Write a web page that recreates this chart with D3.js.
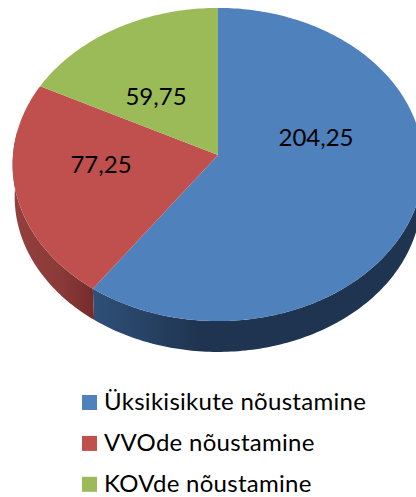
<!DOCTYPE html>
<html>
<head>
<meta charset="utf-8">
<script src="https://cdn.jsdelivr.net/npm/d3@7"></script>
<style>
  html, body { margin: 0; background: #fff; overflow: hidden; }
  text { font-family: Lato, "Noto Sans", sans-serif; fill: #000; }
</style>
</head>
<body>
<div class="chart"></div>
<script>
const categories = ["Üksikisikute nõustamine", "VVOde nõustamine", "KOVde nõustamine"];
const values = [204.25, 77.25, 59.75];
const valueLabels = ["204,25", "77,25", "59,75"];
const colors = ["#4f81bd", "#c0504d", "#9bbb59"];

const width = 416, height = 497;
const center = {x: 218, y: 155};
const radiusX = 205, radiusY = 156;
const tilt = 0.0607;       // perspective, the near edge of the disk looks bigger
const depth = 32.5, baseScale = 0.99;

const svg = d3.select(".chart").append("svg")
    .attr("width", width)
    .attr("height", height)
    .style("display", "block");

const xScale = d3.scaleLinear().domain([-1, 1]).range([center.x - radiusX, center.x + radiusX]);
const yScale = d3.scaleLinear().domain([-1, 1]).range([center.y - radiusY, center.y + radiusY]);

// angle is clockwise from 12 o'clock, same as d3.pie
function project(angle, r, scale, shift) {
    const u = r * Math.sin(angle), v = -r * Math.cos(angle);
    const w = 1 - tilt * v;
    return [xScale(scale * u / w), yScale(scale * v / w) + shift];
}

function rim(a0, a1, scale, shift) {
    const n = Math.max(2, Math.ceil(Math.abs(a1 - a0) * 60));
    return d3.range(n + 1).map(i => project(a0 + (a1 - a0) * i / n, 1, scale, shift));
}

const line = d3.line();
const slices = d3.pie().sort(null).value(d => d)(values);

const defs = svg.append("defs");
function sideGradient(id, x1, x2, stops) {
    const g = defs.append("linearGradient").attr("id", id)
        .attr("gradientUnits", "userSpaceOnUse")
        .attr("x1", x1).attr("x2", x2).attr("y1", 0).attr("y2", 0);
    stops.forEach(s => g.append("stop").attr("offset", s[0]).attr("stop-color", s[1]));
}
sideGradient("sideBlue", 93, 200, [[0, "#2f5078"], [1, "#1f3450"]]);
sideGradient("sideRed", 14, 93, [[0, "#93403d"], [0.6, "#8a3a38"], [1, "#752c2b"]]);

// side wall first, the top faces go over it
const sides = [
    {a0: Math.PI / 2, a1: slices[0].endAngle, fill: "url(#sideBlue)"},
    {a0: slices[0].endAngle, a1: Math.PI * 1.55, fill: "url(#sideRed)"}
];
svg.selectAll(".side")
    .data(sides)
    .join("path")
    .attr("class", "side")
    .attr("fill", d => d.fill)
    .attr("d", d => line(rim(d.a0, d.a1, 1, 0).concat(rim(d.a1, d.a0, baseScale, depth))) + "Z");

svg.selectAll(".slice")
    .data(slices)
    .join("path")
    .attr("class", "slice")
    .attr("fill", (d, i) => colors[i])
    .attr("d", d => line([project(0, 0, 1, 0)].concat(rim(d.startAngle, d.endAngle, 1, 0))) + "Z");

const labelPos = [[316, 146], [101, 173], [156, 105]];
svg.selectAll(".value")
    .data(valueLabels)
    .join("text")
    .attr("class", "value")
    .attr("x", (d, i) => labelPos[i][0])
    .attr("y", (d, i) => labelPos[i][1])
    .attr("text-anchor", "middle")
    .style("font-size", "24px")
    .text(d => d);

const legendY = d3.scalePoint().domain(categories).range([410, 491.8]);
const legend = svg.selectAll(".legend")
    .data(categories)
    .join("g")
    .attr("class", "legend")
    .attr("transform", d => `translate(82, ${legendY(d)})`);

legend.append("rect")
    .attr("y", -15)
    .attr("width", 15)
    .attr("height", 15)
    .attr("fill", (d, i) => colors[i]);

legend.append("text")
    .attr("x", 22)
    .style("font-size", "24px")
    .style("letter-spacing", "0.28px")
    .text(d => d);
</script>
</body>
</html>
